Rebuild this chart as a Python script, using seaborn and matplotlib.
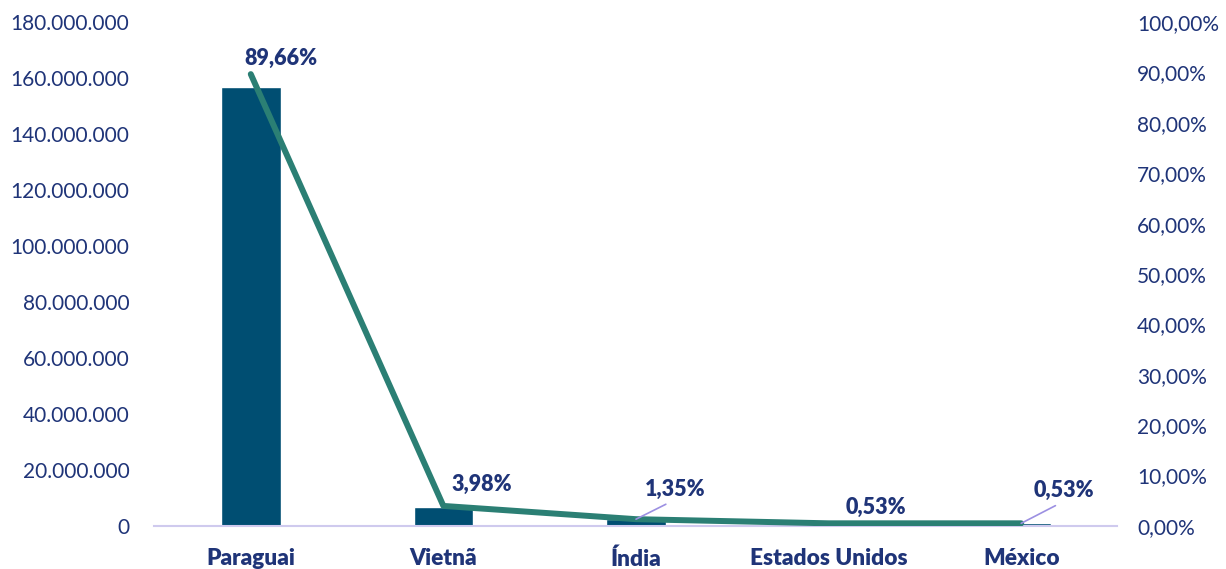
import numpy as np
import pandas as pd
import matplotlib
matplotlib.use("Agg")
import matplotlib.pyplot as plt
import seaborn as sns
from matplotlib.ticker import FuncFormatter, MultipleLocator

# Data: imports by origin country (volume) and share of total (%)
paises = ["Paraguai", "Vietnã", "Índia", "Estados Unidos", "México"]
volume = [156_800_000, 6_900_000, 2_350_000, 920_000, 920_000]
participacao = [89.66, 3.98, 1.35, 0.53, 0.53]

BAR = "#004E72"
LINE = "#2B7F74"
NAVY = "#1F3478"
BASE = "#CFCAEE"
LEADER = "#9C90E2"

sns.set_theme(style="white")
plt.rcParams["font.family"] = ["Lato", "DejaVu Sans"]

fig = plt.figure(figsize=(12.26, 5.69), dpi=100)
ax = fig.add_axes([0.126, 0.0756, 0.7855, 0.8857])

df = pd.DataFrame({"pais": paises, "volume": volume, "pct": participacao})
sns.barplot(data=df, x="pais", y="volume", color=BAR, width=0.31,
            saturation=1, ax=ax)

ax.set_ylim(0, 180_000_000)
ax.set_xlim(-0.5, len(paises) - 0.5)
ax.yaxis.set_major_locator(MultipleLocator(20_000_000))
ax.yaxis.set_major_formatter(
    FuncFormatter(lambda v, p: f"{int(v):,}".replace(",", ".")))
ax.set_xlabel("")
ax.set_ylabel("")
ax.tick_params(axis="y", colors=NAVY, labelsize=15, length=0, pad=18)
ax.tick_params(axis="x", colors=NAVY, labelsize=16.3, length=0, pad=16)
for t in ax.get_xticklabels():
    t.set_fontweight("heavy")
for s in ["top", "right", "left"]:
    ax.spines[s].set_visible(False)
ax.spines["bottom"].set_color(BASE)
ax.spines["bottom"].set_linewidth(1.5)

ax2 = ax.twinx()
sns.lineplot(x=np.arange(len(paises)), y=np.array(participacao) / 100,
             color=LINE, linewidth=4.3, ax=ax2, solid_capstyle="round")
ax2.set_ylim(0, 1)
ax2.yaxis.set_major_locator(MultipleLocator(0.1))
ax2.yaxis.set_major_formatter(
    FuncFormatter(lambda v, p: f"{v * 100:.2f}%".replace(".", ",")))
ax2.tick_params(axis="y", colors=NAVY, labelsize=15, length=0, pad=14)
ax2.set_ylabel("")
for s in ["top", "right", "left", "bottom"]:
    ax2.spines[s].set_visible(False)

# Data labels for the share line (offsets in points)
offsets = [(22, 4), (28, 8), (28, 14), (34, 4), (31, 16)]
leaders = [False, False, True, False, True]
for i, (p, off, lead) in enumerate(zip(participacao, offsets, leaders)):
    label = f"{p:.2f}%".replace(".", ",")
    kw = dict(arrowprops=dict(arrowstyle="-", color=LEADER, lw=1.2,
                              relpos=(0.5, 0.0), shrinkA=2, shrinkB=0)) if lead else {}
    ax2.annotate(label, xy=(i, p / 100), xytext=off, textcoords="offset points",
                 ha="center", va="bottom", color=NAVY, fontsize=15.5,
                 fontweight="heavy", **kw)

fig.savefig("out.png", dpi=100)
